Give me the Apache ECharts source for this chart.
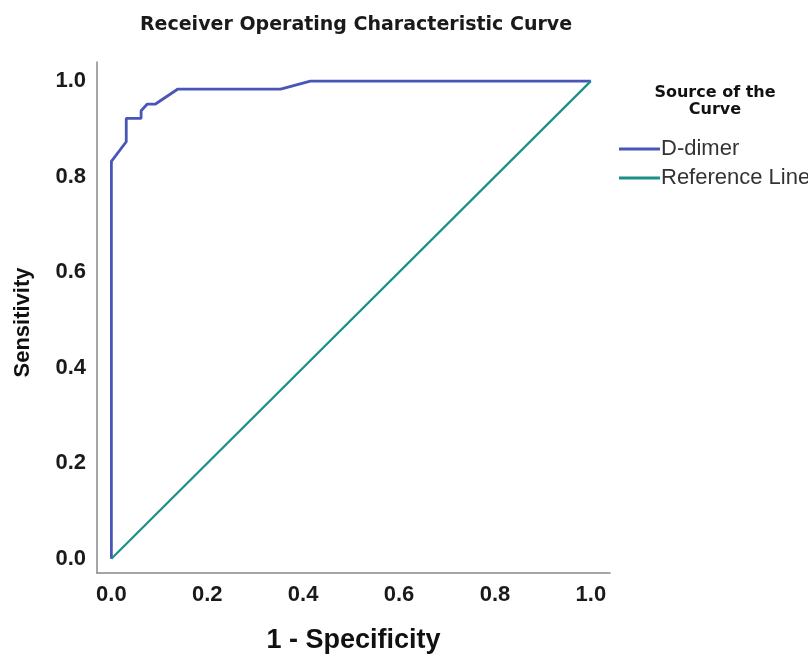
<!DOCTYPE html>
<html>
<head>
<meta charset="utf-8">
<script src="https://cdn.jsdelivr.net/npm/echarts@6/dist/echarts.min.js"></script>
<style>
  html, body { margin: 0; padding: 0; background: #fff; }
  #chart { width: 808px; height: 659px; }
</style>
</head>
<body>
<div id="chart"></div>
<script>
// ROC curve points: [1 - specificity, sensitivity]
const dDimer = [
  [0, 0], [0, 0.832], [0.031, 0.873], [0.031, 0.922], [0.062, 0.922],
  [0.062, 0.938], [0.075, 0.952], [0.092, 0.952], [0.138, 0.983],
  [0.353, 0.983], [0.415, 1.0], [1.0, 1.0]
]
const referenceLine = [[0, 0], [1, 1]]
const tickValues = [0, 0.2, 0.4, 0.6, 0.8, 1.0]

const chart = echarts.init(document.getElementById('chart'))

const tickFont = {
  color: '#1a1a1a',
  fontFamily: 'Liberation Sans, Arial, sans-serif',
  fontWeight: 'bold',
  fontSize: 22,
  formatter: v => v.toFixed(1)
}

const option = {
  backgroundColor: '#fff',
  animation: false,
  title: [{
    text: 'Receiver Operating Characteristic Curve',
    left: 351, top: 11, textAlign: 'center',
    textStyle: { fontFamily: 'DejaVu Sans, sans-serif', fontSize: 19, fontWeight: 'bold', color: '#1a1a1a' }
  }, {
    text: 'Source of the\nCurve',
    left: 710, top: 79, textAlign: 'center',
    textStyle: { fontFamily: 'DejaVu Sans, sans-serif', fontSize: 16, fontWeight: 'bold', color: '#111', lineHeight: 17 }
  }],
  legend: {
    orient: 'vertical',
    left: 614, top: 133,
    itemWidth: 41, itemHeight: 3, itemGap: 7,
    icon: 'rect',
    textStyle: { fontFamily: 'Liberation Sans, Arial, sans-serif', fontSize: 22, color: '#333', padding: [0, 0, 0, -4] },
    data: ['D-dimer', 'Reference Line']
  },
  grid: { left: 97, right: 198, top: 62, bottom: 82 },
  xAxis: {
    type: 'value', min: -0.03, max: 1.04,
    name: '1 - Specificity', nameLocation: 'middle', nameGap: 54,
    nameTextStyle: { fontFamily: 'Liberation Sans, Arial, sans-serif', fontSize: 27, fontWeight: 'bold', color: '#111' },
    axisLine: { onZero: false, lineStyle: { color: '#888', width: 1.5 } },
    axisTick: { show: false },
    splitLine: { show: false },
    axisLabel: Object.assign({ customValues: tickValues, margin: 11 }, tickFont)
  },
  yAxis: {
    type: 'value', min: -0.03, max: 1.04,
    name: 'Sensitivity', nameLocation: 'middle', nameGap: 63,
    nameTextStyle: { fontFamily: 'Liberation Sans, Arial, sans-serif', fontSize: 22, fontWeight: 'bold', color: '#111', padding: [0, 10, 0, 0] },
    axisLine: { show: true, onZero: false, lineStyle: { color: '#888', width: 1.5 } },
    axisTick: { show: false },
    splitLine: { show: false },
    axisLabel: Object.assign({ customValues: tickValues, margin: 11 }, tickFont)
  },
  series: [{
    name: 'D-dimer', type: 'line', data: dDimer,
    showSymbol: false, symbol: 'none',
    color: '#4a55b8',
    lineStyle: { color: '#4a55b8', width: 2.8 }
  }, {
    name: 'Reference Line', type: 'line', data: referenceLine,
    showSymbol: false, symbol: 'none',
    color: '#1b9088',
    lineStyle: { color: '#1b9088', width: 2.2 }
  }]
}

chart.setOption(option)
</script>
</body>
</html>
